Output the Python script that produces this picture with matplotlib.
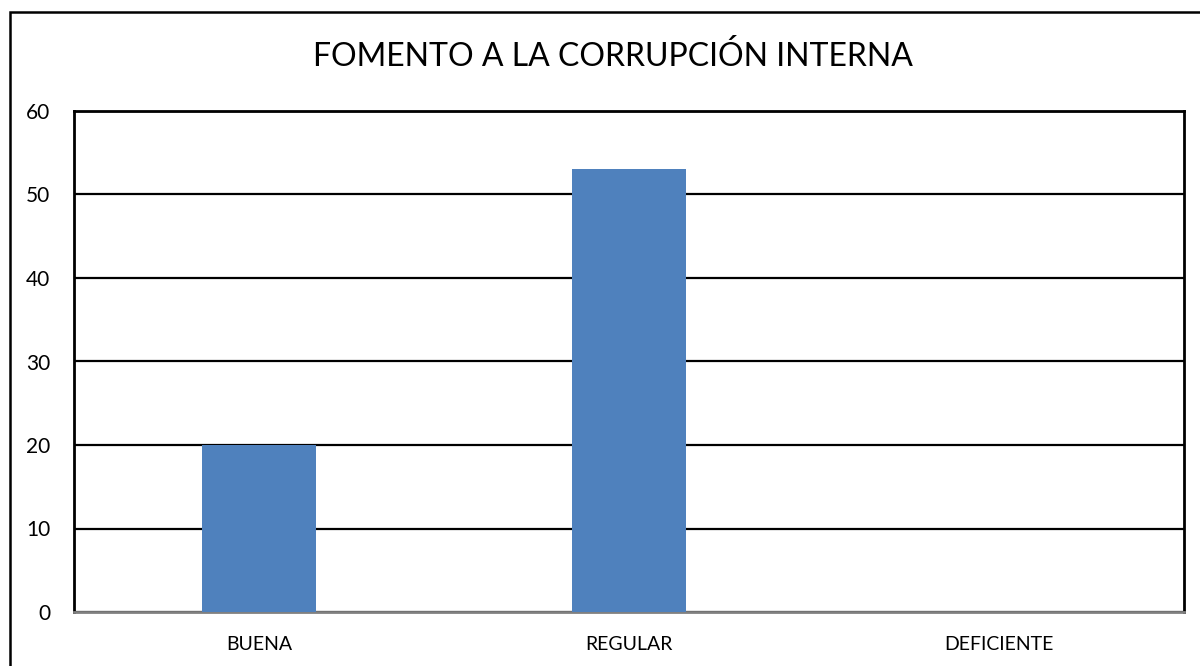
import matplotlib
matplotlib.use("Agg")
from matplotlib import pyplot as plt
from matplotlib.patches import Rectangle

# chart data
CATEGORIES = ["BUENA", "REGULAR", "DEFICIENTE"]
VALUES = [20, 53, 0]
Y_TICKS = [0, 10, 20, 30, 40, 50, 60]
TITLE = "FOMENTO A LA CORRUPCIÓN INTERNA"

plt.rcParams['font.family'] = ['Lato', 'DejaVu Sans']

W, H = 1200, 666
fig = plt.figure(figsize=(12, 6.66), dpi=100, facecolor="white")

# outer chart frame (runs off the right and bottom edges)
fig.patches.append(Rectangle((10 / W, -0.05), 1.2, 1 - 12 / H + 0.05,
                             transform=fig.transFigure, fill=False,
                             edgecolor="black", linewidth=1.8))

left, right, top, bottom = 74, 1184, 111, 612
ax = fig.add_axes([left / W, 1 - bottom / H, (right - left) / W, (bottom - top) / H])

x = range(len(CATEGORIES))
ax.bar(x, VALUES, width=0.31, color="#4F81BD", zorder=3)
ax.set_xlim(-0.5, len(CATEGORIES) - 0.5)
ax.set_ylim(0, 60)
ax.set_yticks(Y_TICKS)
ax.set_xticks(list(x))
ax.set_xticklabels(CATEGORIES, fontsize=14)
ax.tick_params(axis="y", labelsize=15, length=0, pad=17)
ax.tick_params(axis="x", length=0, pad=17)

ax.grid(axis="y", color="black", linewidth=1.6, zorder=1)
for side in ("top", "left", "right"):
    ax.spines[side].set_linewidth(2)
    ax.spines[side].set_color("black")
ax.spines["bottom"].set_color("#808080")
ax.spines["bottom"].set_linewidth(2)

fig.text(613 / W, 1 - 57 / H, TITLE, ha="center", va="center", fontsize=23)

fig.savefig("out.png", dpi=100)
